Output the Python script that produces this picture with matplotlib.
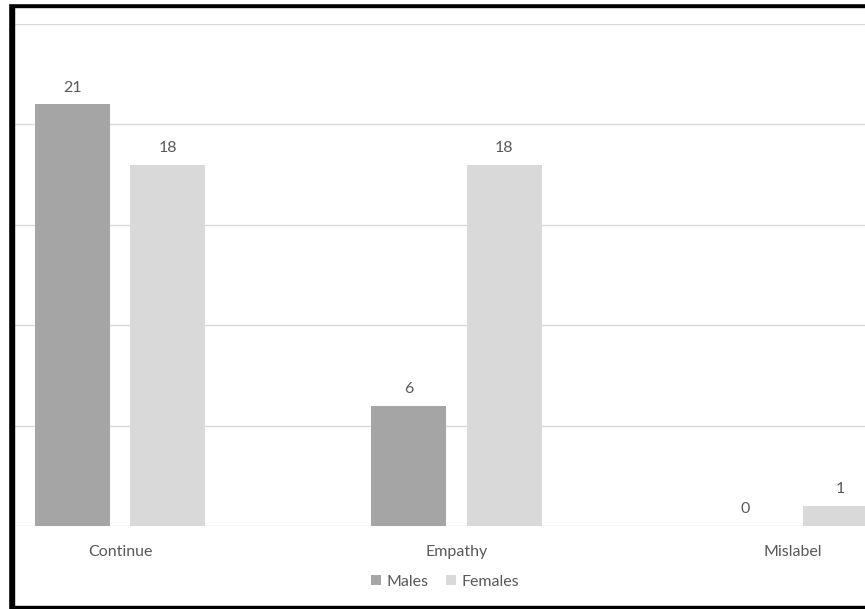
import matplotlib.pyplot as plt
import numpy as np
from matplotlib.patches import Rectangle

categories = ["Continue", "Empathy", "Mislabel"]
males = [21, 6, 0]
females = [18, 18, 1]
series_names = ["Males", "Females"]

plt.rcParams['font.family'] = ['Lato', 'DejaVu Sans']

W, H = 865, 609
fig = plt.figure(figsize=(W / 100, H / 100), dpi=100)

# axes is wider than the figure, so the outer categories get clipped
px0, px1 = -48.25, 961.25
py0, py1 = 526, 24
ax = fig.add_axes([px0 / W, 1 - py0 / H, (px1 - px0) / W, (py0 - py1) / H])
ax.set_xlim(-0.5, 2.5)
ax.set_ylim(0, 25)

x = np.arange(len(categories))
bw = 0.223
off = 0.1415
txt = "#595959"
fs = 11.5
b1 = ax.bar(x - off, males, bw, color="#a5a5a5", label=series_names[0], zorder=3)
b2 = ax.bar(x + off, females, bw, color="#d9d9d9", label=series_names[1], zorder=3)
for bars in (b1, b2):
    ax.bar_label(bars, padding=7, color=txt, fontsize=fs)

ax.set_yticks([0, 5, 10, 15, 20, 25])
ax.yaxis.grid(True, color="#d9d9d9", linewidth=1)
ax.set_axisbelow(True)
ax.tick_params(left=False, bottom=False, labelleft=False)
ax.set_xticks(x)
ax.set_xticklabels(categories, color=txt, fontsize=fs)
ax.tick_params(axis="x", pad=10)
for s in ax.spines.values():
    s.set_visible(False)

fig.legend(handles=[b1, b2], labels=series_names, loc="center",
           bbox_to_anchor=(445 / W, 1 - 582 / H), ncol=2, frameon=False,
           fontsize=fs, labelcolor=txt, handlelength=0.6, handleheight=0.6,
           handletextpad=0.35, columnspacing=1.1)

# black frame on the left, top and bottom edges
fig.patches.append(Rectangle((8 / W, 0), 6 / W, 1, transform=fig.transFigure,
                             color="black", zorder=10))
fig.patches.append(Rectangle((8 / W, 1 - 7 / H), 1, 4 / H, transform=fig.transFigure,
                             color="black", zorder=10))
fig.patches.append(Rectangle((8 / W, 0), 1, 3.5 / H, transform=fig.transFigure,
                             color="black", zorder=10))
# white outside the frame
fig.patches.append(Rectangle((0, 1 - 3 / H), 1, 3 / H, transform=fig.transFigure,
                             color="white", zorder=11))
fig.patches.append(Rectangle((0, 0), 8 / W, 1, transform=fig.transFigure,
                             color="white", zorder=11))

fig.savefig("out.png", dpi=100)
